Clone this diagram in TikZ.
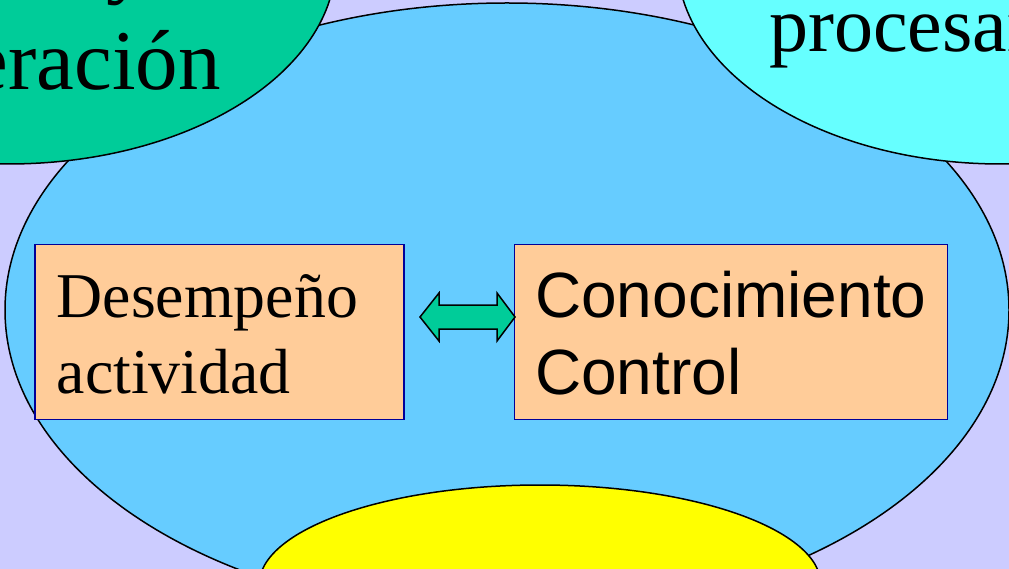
\documentclass[tikz,border=0pt]{standalone}
\usepackage{fontspec}
\setmainfont{Liberation Serif}
\newfontfamily\sansf{Liberation Sans}
\usetikzlibrary{shapes.geometric}
\definecolor{bg}{HTML}{CCCCFF}
\definecolor{bigblue}{HTML}{66CCFF}
\definecolor{tealgreen}{HTML}{00CC99}
\definecolor{aqua}{HTML}{66FFFF}
\definecolor{yel}{HTML}{FFFF00}
\definecolor{peach}{HTML}{FFCC99}
\definecolor{navy}{HTML}{000099}
\begin{document}
\begin{tikzpicture}[x=1pt,y=-1pt,
  bubble/.style={ellipse, draw=black, line width=1.5pt, inner sep=0pt},
  box/.style={rectangle, draw=navy, line width=1.6pt, fill=peach, inner sep=0pt},
  serif/.style={font=\fontsize{63.8}{76}\selectfont, inner sep=0pt, anchor=base west},
  sans/.style={font=\sansf\fontsize{64}{76}\selectfont, inner sep=0pt, anchor=base west},
  arrowfill/.style={draw=black, line width=1.5pt, fill=tealgreen, line join=miter}]
\useasboundingbox (0,0) rectangle (1009,569);
\clip (0,0) rectangle (1009,569);
\fill[bg] (0,0) rectangle (1009,569);
\node[bubble, fill=bigblue, minimum width=1004pt, minimum height=614pt] (central) at (507,310) {};
\node[bubble, fill=tealgreen, minimum width=656pt, minimum height=408pt] (tl) at (8,-40) {};
\node[bubble, fill=aqua, minimum width=648pt, minimum height=408pt] (tr) at (1001,-40) {};
\node[bubble, fill=yel, minimum width=562pt, minimum height=200pt] (bot) at (540,585) {};
\node[font=\fontsize{85}{100}\selectfont, inner sep=0pt, anchor=base west] (tly) at (106,-12) {y};
\node[font=\fontsize{85}{100}\selectfont, inner sep=0pt, anchor=base east] (tlt) at (221,90) {eración};
\node[font=\fontsize{78}{90}\selectfont, inner sep=0pt, anchor=base west] (trt) at (769,52) {procesar};
\node[box, minimum width=369pt, minimum height=175pt] (des) at (219.5,332) {};
\node[box, minimum width=433pt, minimum height=175pt] (con) at (731,332) {};
\draw[arrowfill] (420,317) -- (439,293) -- (439,305) -- (497,305) -- (497,293) -- (515,317)
  -- (497,341) -- (497,329) -- (439,329) -- (439,341) -- cycle;
\node[serif] (d1) at (56.5,317) {Desempeño};
\node[serif] (d2) at (56.5,393.5) {actividad};
\node[sans] (c1) at (535,317.5) {Conocimiento};
\node[sans] (c2) at (535,394) {Control};
\end{tikzpicture}
\end{document}
